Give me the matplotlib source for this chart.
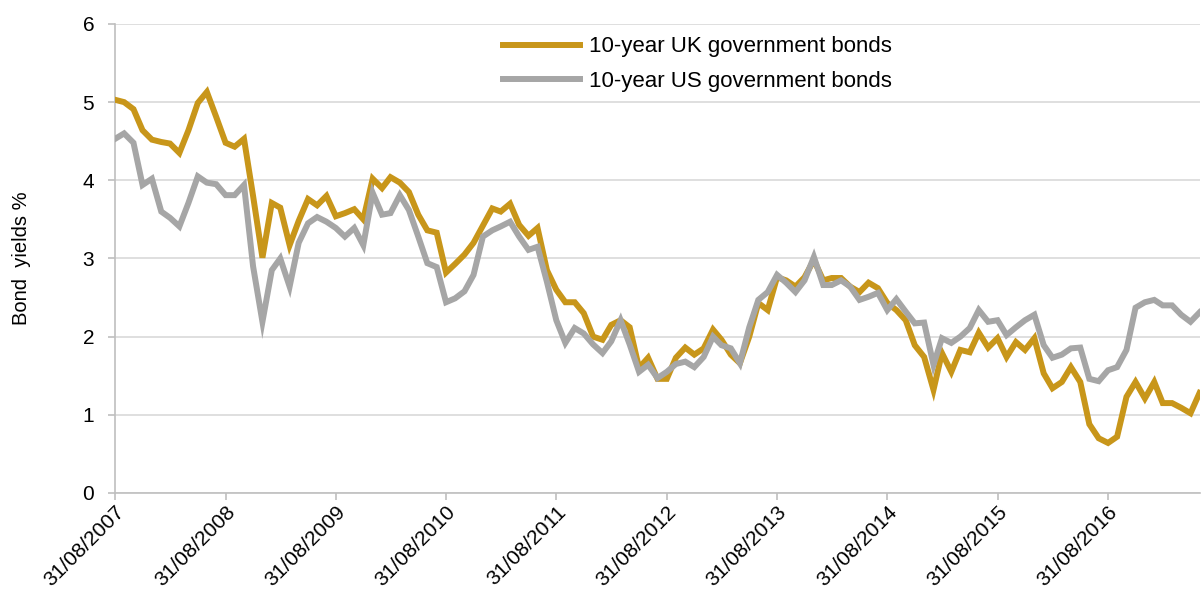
import matplotlib
matplotlib.use("Agg")
import matplotlib.pyplot as plt
import matplotlib.dates as mdates
import pandas as pd

plt.rcParams['font.family'] = ['Liberation Sans', 'DejaVu Sans']

# Month-end dates, Aug 2007 to Jun 2017
dates = pd.date_range("2007-08-31", periods=119, freq="ME")

uk_yields = [
    5.03, 5.00, 4.91, 4.64, 4.52, 4.49, 4.47, 4.35, 4.64, 4.99,
    5.13, 4.81, 4.48, 4.43, 4.53, 3.80, 3.01, 3.71, 3.65, 3.17,
    3.48, 3.76, 3.68, 3.80, 3.54, 3.58, 3.63, 3.50, 4.02, 3.90,
    4.04, 3.97, 3.85, 3.56, 3.36, 3.33, 2.82, 2.93, 3.05, 3.20,
    3.42, 3.64, 3.60, 3.70, 3.43, 3.29, 3.39, 2.85, 2.60, 2.44,
    2.44, 2.30, 2.00, 1.96, 2.15, 2.21, 2.12, 1.60, 1.73, 1.46,
    1.46, 1.73, 1.86, 1.77, 1.85, 2.09, 1.96, 1.77, 1.66, 2.00,
    2.43, 2.34, 2.76, 2.72, 2.64, 2.76, 2.98, 2.72, 2.75, 2.75,
    2.64, 2.57, 2.69, 2.62, 2.43, 2.34, 2.21, 1.89, 1.74, 1.32,
    1.79, 1.55, 1.83, 1.80, 2.05, 1.86, 1.98, 1.74, 1.93, 1.83,
    1.98, 1.53, 1.34, 1.42, 1.61, 1.42, 0.88, 0.70, 0.64, 0.72,
    1.23, 1.42, 1.21, 1.42, 1.15, 1.15, 1.09, 1.02, 1.28,
]

us_yields = [
    4.53, 4.60, 4.48, 3.94, 4.02, 3.60, 3.52, 3.41, 3.71, 4.05,
    3.97, 3.95, 3.81, 3.81, 3.94, 2.90, 2.19, 2.85, 3.00, 2.64,
    3.20, 3.45, 3.53, 3.47, 3.39, 3.28, 3.39, 3.17, 3.84, 3.56,
    3.58, 3.81, 3.62, 3.28, 2.94, 2.89, 2.44, 2.49, 2.58, 2.79,
    3.28, 3.36, 3.41, 3.47, 3.28, 3.11, 3.15, 2.70, 2.21, 1.92,
    2.11, 2.04, 1.90, 1.79, 1.94, 2.21, 1.90, 1.55, 1.64, 1.47,
    1.55, 1.65, 1.68, 1.61, 1.74, 2.00, 1.89, 1.85, 1.66, 2.12,
    2.47, 2.57, 2.79, 2.69, 2.57, 2.72, 3.02, 2.66, 2.66, 2.72,
    2.64, 2.47, 2.51, 2.56, 2.34, 2.48, 2.32, 2.17, 2.18, 1.64,
    1.98, 1.92, 2.00, 2.11, 2.34, 2.19, 2.21, 2.02, 2.12, 2.21,
    2.28, 1.89, 1.73, 1.77, 1.85, 1.86, 1.46, 1.43, 1.57, 1.61,
    1.83, 2.37, 2.44, 2.47, 2.40, 2.40, 2.28, 2.19, 2.31,
]

tick_dates = pd.date_range("2007-08-31", periods=10, freq="12ME")
y_ticks = [0, 1, 2, 3, 4, 5, 6]

fig = plt.figure(figsize=(12.01, 5.99), dpi=100)
ax = fig.add_axes([0.0958, 0.177, 0.903, 0.783])

ax.plot(dates, uk_yields, color='#C8961A', linewidth=4.3, label="10-year UK government bonds",
        solid_joinstyle='miter', zorder=3)
ax.plot(dates, us_yields, color='#A6A6A6', linewidth=4.3, label="10-year US government bonds",
        solid_joinstyle='miter', zorder=3)

ax.set_xlim(dates[0], dates[-1])
ax.set_ylim(0, 6)
ax.set_yticks(y_ticks)
ax.set_xticks(tick_dates)
ax.xaxis.set_major_formatter(mdates.DateFormatter('%d/%m/%Y'))
plt.setp(ax.get_xticklabels(), rotation=45, ha='right', rotation_mode='anchor')

ax.grid(axis='y', color='#D9D9D9', linewidth=1.2)
ax.set_axisbelow(True)
for side in ['top', 'right']:
    ax.spines[side].set_visible(False)
for side in ['left', 'bottom']:
    ax.spines[side].set_color('#BFBFBF')
    ax.spines[side].set_linewidth(1.2)
ax.tick_params(axis='both', colors='#BFBFBF', labelcolor='black', labelsize=15, length=5, width=1.2)
ax.tick_params(axis='y', pad=10)
ax.tick_params(axis='x', pad=2)

ax.set_ylabel("Bond  yields %", fontsize=14.5, labelpad=37)

ax.legend(loc='upper left', bbox_to_anchor=(0.339, 1.016), frameon=False, fontsize=16,
          handlelength=3.5, handletextpad=0.4, labelspacing=0.6)

plt.savefig("out.png", dpi=100)
plt.close()
